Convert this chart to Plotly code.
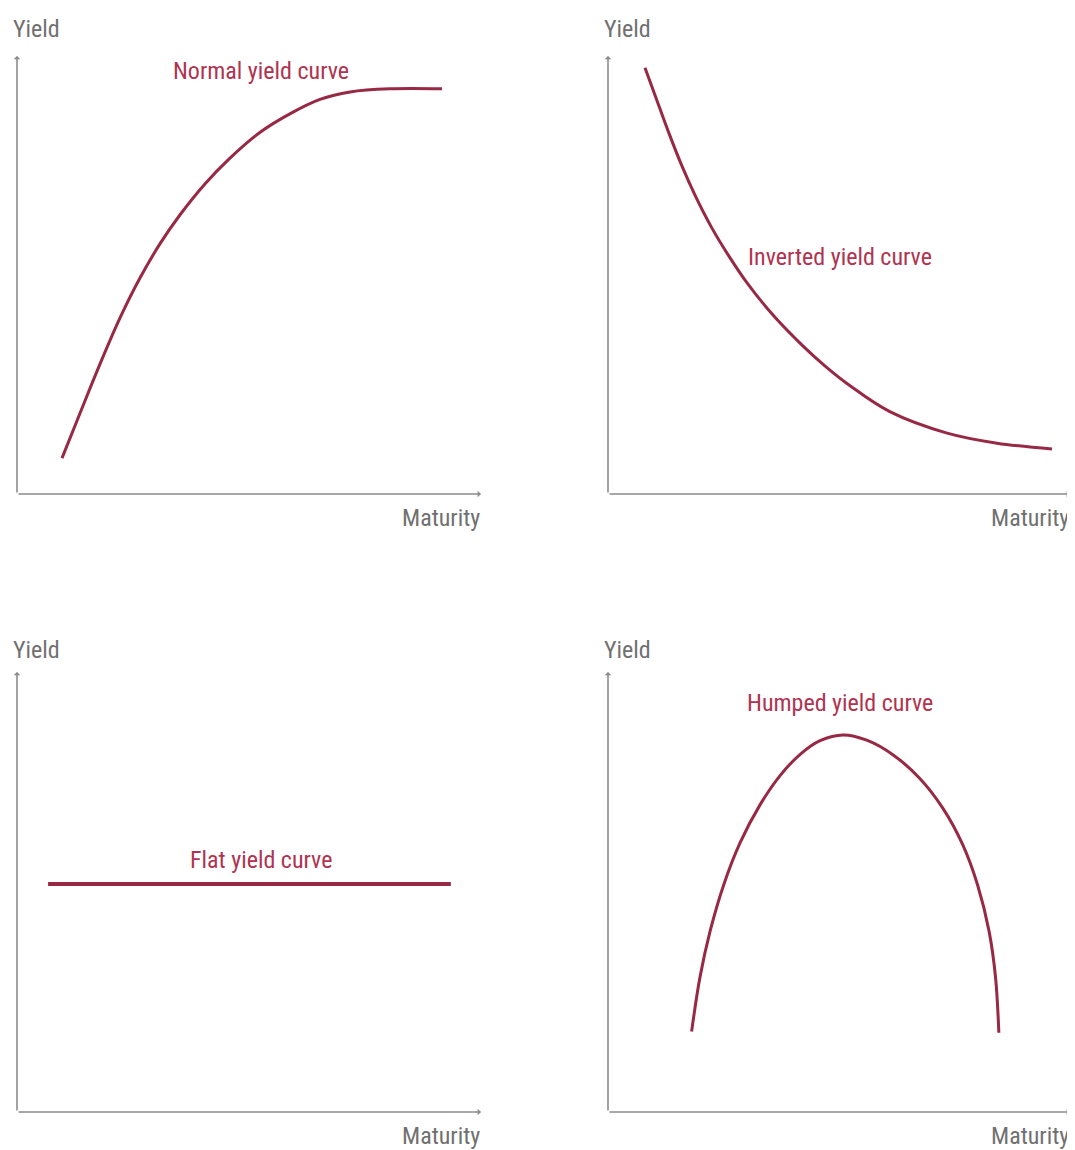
import plotly.graph_objects as go

# ---- data (arbitrary units) ----
normal_x = [0.97, 1.36, 1.79, 2.22, 2.65, 3.08, 3.51, 4.05, 4.59, 5.24, 5.88, 6.53, 7.18, 8.04, 9.16]
normal_y = [0.82, 1.85, 2.97, 4.02, 4.93, 5.71, 6.37, 7.08, 7.67, 8.26, 8.68, 9.01, 9.18, 9.25, 9.25]

inverted_x = [0.80, 1.02, 1.30, 1.60, 1.88, 2.25, 2.60, 3.03, 3.61, 4.20, 4.70, 5.24, 6.10, 7.34, 8.42, 9.61]
inverted_y = [9.73, 9.10, 8.29, 7.49, 6.83, 6.07, 5.46, 4.79, 4.04, 3.40, 2.92, 2.47, 1.88, 1.39, 1.16, 1.03]

flat_x = [0.67, 5.0, 9.35]
flat_y = [5.18, 5.18, 5.18]

humped_x = [1.81, 1.99, 2.21, 2.50, 2.86, 3.29, 3.72, 4.16, 4.59, 5.09,
            5.60, 6.18, 6.75, 7.25, 7.68, 8.00, 8.25, 8.39, 8.46]
humped_y = [1.83, 3.06, 4.11, 5.15, 6.12, 6.98, 7.64, 8.13, 8.44, 8.57,
            8.45, 8.11, 7.58, 6.90, 6.07, 5.16, 4.10, 3.04, 1.80]

panel_titles = ["Normal yield curve", "Inverted yield curve", "Flat yield curve", "Humped yield curve"]
title_pos = [(5.26, 9.66), (5.02, 5.41), (5.26, 5.73), (5.02, 9.30)]
y_label = "Yield"
x_label = "Maturity"

# page has an 8px body margin, so the figure is drawn 8px in from the window edge
OFF = 8
W, H = 1067, 1142
CURVE = "#982945"
TEXT_RED = "#b0334f"
GRAY = "#8c8c8c"
LABEL_GRAY = "#707070"
FONT = "Roboto Condensed, Liberation Sans Narrow, sans-serif"

# panel pixel boxes in window coords: (left, right, top, bottom)
boxes = [(17, 481, 56, 494), (608, 1070, 56, 494), (17, 481, 672, 1112), (608, 1070, 672, 1112)]
yield_label_dy = [27, 27, 22, 22]
mat_label_dy = 24

fig = go.Figure()
series = [(normal_x, normal_y, 3), (inverted_x, inverted_y, 3), (flat_x, flat_y, 4), (humped_x, humped_y, 3)]

layout = dict(width=W, height=H, margin=dict(l=0, r=0, t=0, b=0),
              paper_bgcolor="white", plot_bgcolor="white", showlegend=False)
annotations = []
for i, ((xs, ys, lw), (l, r, t, b)) in enumerate(zip(series, boxes)):
    l, r, t, b = l - OFF, r - OFF, t - OFF, b - OFF
    n = i + 1
    xa = "x" if n == 1 else f"x{n}"
    ya = "y" if n == 1 else f"y{n}"
    fig.add_trace(go.Scatter(x=xs, y=ys, mode="lines", xaxis=xa, yaxis=ya,
                             line=dict(color=CURVE, width=lw, shape="spline", smoothing=1.0),
                             hoverinfo="skip"))
    layout["xaxis" if n == 1 else f"xaxis{n}"] = dict(
        domain=[l / W, min(1.0, r / W)], range=[0, 10], showgrid=False, zeroline=False,
        showticklabels=False, ticks="", showline=False, anchor=ya, fixedrange=True)
    layout["yaxis" if n == 1 else f"yaxis{n}"] = dict(
        domain=[max(0.0, 1 - b / H), min(1.0, 1 - t / H)], range=[0, 10], showgrid=False,
        zeroline=False, showticklabels=False, ticks="", showline=False, anchor=xa, fixedrange=True)
    # axis arrows
    annotations.append(dict(x=10, y=0, ax=0, ay=0, xref=xa, yref=ya, axref=xa, ayref=ya,
                            text="", showarrow=True, arrowhead=1, arrowsize=0.7,
                            arrowwidth=1.6, arrowcolor=GRAY))
    annotations.append(dict(x=0, y=10, ax=0, ay=0, xref=xa, yref=ya, axref=xa, ayref=ya,
                            text="", showarrow=True, arrowhead=1, arrowsize=0.7,
                            arrowwidth=1.6, arrowcolor=GRAY))
    # curve label
    tx, ty = title_pos[i]
    annotations.append(dict(x=tx, y=ty, xref=xa, yref=ya, text=panel_titles[i],
                            showarrow=False, xanchor="center", yanchor="middle",
                            font=dict(family=FONT, size=24, color=TEXT_RED)))
    # axis labels
    annotations.append(dict(x=(l - 6) / W, y=1 - (t - yield_label_dy[i]) / H, xref="paper", yref="paper",
                            text=y_label, showarrow=False, xanchor="left", yanchor="middle",
                            font=dict(family=FONT, size=24, color=LABEL_GRAY)))
    annotations.append(dict(x=min(1.0, (r + 1) / W), y=1 - (b + mat_label_dy) / H, xref="paper",
                            yref="paper", text=x_label, showarrow=False, xanchor="right",
                            yanchor="middle", font=dict(family=FONT, size=24, color=LABEL_GRAY)))

layout["annotations"] = annotations
fig.update_layout(**layout)
fig.write_html("out.html")
